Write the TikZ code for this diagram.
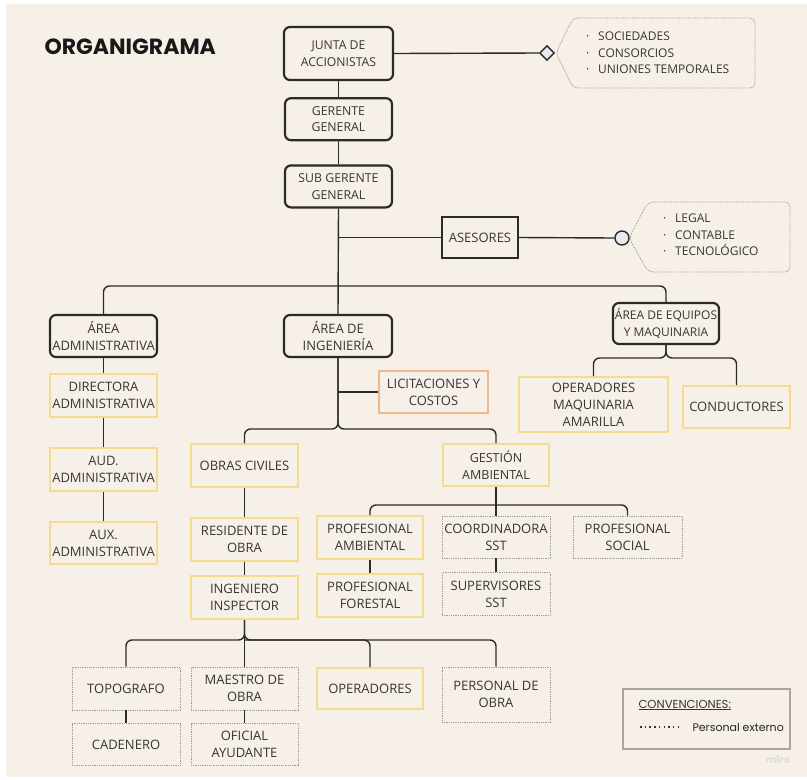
\documentclass[tikz,border=0pt]{standalone}
\usepackage{fontspec}
\setmainfont{Open Sans}
\newfontfamily\poppins{Poppins}
\usetikzlibrary{positioning,shapes.geometric,calc}

\definecolor{crema}{HTML}{F7F0E8}
\definecolor{tinta}{HTML}{363636}
\definecolor{negro}{HTML}{2B2B2B}
\definecolor{amarillo}{HTML}{F5DC8C}
\definecolor{naranjo}{HTML}{F0B88A}
\definecolor{gris}{HTML}{9C9C9C}
\definecolor{relleno}{HTML}{E9EAEF}
\definecolor{marco}{HTML}{A9A5A1}

\newcommand{\blt}{\makebox[12pt][l]{·}}

\begin{document}
\begin{tikzpicture}[x=1pt,y=-1pt,node distance=13pt,
every node/.style={text=tinta},
caja/.style={align=center,inner sep=0pt,minimum width=107pt,
    minimum height=42pt,font=\fontsize{13}{17}\selectfont},
jefe/.style={caja,draw=negro,line width=2.2pt,rounded corners=6pt},
amarilla/.style={caja,draw=amarillo,line width=2pt},
naranja/.style={caja,draw=naranjo,line width=2pt},
externa/.style={caja,draw=gris,line width=0.8pt,dash pattern=on 0.9pt off 0.9pt},
linea/.style={draw=negro,line width=1.4pt},
nube/.style={draw=gris,line width=0.8pt,dash pattern=on 0.9pt off 0.9pt,rounded corners=5pt},
lista/.style={align=left,inner sep=0pt,font=\fontsize{12}{16.5}\selectfont}
    ]
% fondo
\useasboundingbox (0,0) rectangle (807,780);
\fill[white] (0,0) rectangle (807,780);
\fill[crema] (6,4) rectangle (807,777);

\node[anchor=west,text=black!90,font=\poppins\bfseries\fontsize{22}{26}\selectfont] (titulo) at (41,47) {ORGANIGRAMA};

% direccion
\node[jefe,minimum width=109pt,minimum height=53pt,font=\fontsize{12.2}{17.5}\selectfont] (junta) at (338.5,53.5) {JUNTA DE\\ACCIONISTAS};
\node[jefe,font=\fontsize{12.3}{16.5}\selectfont](gerente) [below=16pt of junta] {GERENTE\\GENERAL};
\node[jefe,font=\fontsize{12.3}{16.5}\selectfont](sub) [below=23pt of gerente] {SUB GERENTE\\GENERAL};
\node[jefe,rounded corners=0pt,minimum width=76pt,minimum height=41pt] (asesores) at (480,237.5) {ASESORES};
\node[diamond,draw=negro,fill=relleno,line width=1.4pt,inner sep=0pt,minimum size=15pt] (dia) at (547,53) {};
\node[circle,draw=negro,fill=relleno,line width=1.4pt,inner sep=0pt,minimum size=14pt] (circ) at (622,238) {};

% notas
\draw[nube] (556,53) -- (573,18) -- (755,18) -- (755,88) -- (573,88) -- cycle;
\node[lista,anchor=west] (socios) at (586,53) {\blt SOCIEDADES\\\blt CONSORCIOS\\\blt UNIONES TEMPORALES};
\draw[nube] (629,238) -- (648,202) -- (790,202) -- (790,272) -- (648,272) -- cycle;
\node[lista,anchor=west] (apoyo) at (663,235) {\blt LEGAL\\\blt CONTABLE\\\blt TECNOLÓGICO};

% areas
\node[jefe] (adm) at (103.5,336) {ÁREA\\ADMINISTRATIVA};
\node[jefe,minimum width=108pt] (ing) at (338,336) {ÁREA DE\\INGENIERÍA};
\node[jefe,minimum width=106pt,minimum height=41pt,font=\fontsize{12}{16.5}\selectfont] (equ) at (666,323.5) {ÁREA DE EQUIPOS\\Y MAQUINARIA};

% administrativa
\node[amarilla,minimum height=43pt](dir) [below=15pt of adm] {DIRECTORA\\ADMINISTRATIVA};
\node[amarilla,minimum height=43pt](aud) [below=29pt of dir] {AUD.\\ADMINISTRATIVA};
\node[amarilla](aux) [below=29pt of aud] {AUX.\\ADMINISTRATIVA};

% ingenieria
\node[naranja,minimum width=109pt] (lic) at (433.5,392) {LICITACIONES Y\\COSTOS};
\node[amarilla,minimum height=43pt] (obras) at (244.5,465.5) {OBRAS CIVILES};
\node[amarilla,minimum width=106pt,font=\fontsize{12.5}{17}\selectfont] (gest) at (496,465) {GESTIÓN\\AMBIENTAL};
\node[amarilla,minimum height=43pt](resid) [below=29pt of obras] {RESIDENTE DE\\OBRA};
\node[amarilla,minimum height=43pt](insp) [below=of resid] {INGENIERO\\INSPECTOR};
\node[amarilla,minimum width=106pt,minimum height=43pt] (pamb) at (370,537.5) {PROFESIONAL\\AMBIENTAL};
\node[amarilla,minimum width=106pt,minimum height=43pt](pfor) [below=of pamb] {PROFESIONAL\\FORESTAL};
\node[externa,minimum width=108pt] (coord) at (496,537) {COORDINADORA\\SST};
\node[externa,minimum width=108pt,minimum height=43pt](superv) [below=14pt of coord] {SUPERVISORES\\SST};
\node[externa,minimum width=109pt] (psoc) at (627.5,537) {PROFESIONAL\\SOCIAL};

% equipos
\node[amarilla,minimum width=149pt,minimum height=55pt] (opmaq) at (593.5,404.5) {OPERADORES\\MAQUINARIA\\AMARILLA};
\node[amarilla] (cond) at (736.5,407) {CONDUCTORES};

% obra
\node[externa,minimum width=108pt,minimum height=43pt] (topo) at (126,688.5) {TOPOGRAFO};
\node[externa,minimum height=43pt] (maestro) at (244.5,688.5) {MAESTRO DE\\OBRA};
\node[amarilla,minimum width=106pt,minimum height=41pt] (oper) at (370,688.5) {OPERADORES};
\node[externa,minimum width=108pt,minimum height=55pt] (perobra) at (496,694.5) {PERSONAL DE\\OBRA};
\node[externa,minimum width=108pt](cad) [below=of topo] {CADENERO};
\node[externa](ofic) [below=of maestro] {OFICIAL\\AYUDANTE};

% convenciones
\draw[marco,line width=2.4pt] (623,689) rectangle (790,749);
\node[anchor=base west,font=\poppins\fontsize{11.6}{13}\selectfont] (conv) at (635,708) {\underline{CONVENCIONES:}};
\draw[tinta,line width=1.5pt,dash pattern=on 1.5pt off 3.2pt] (640,727) -- (678,727);
\node[anchor=west,text=black!85,font=\poppins\fontsize{11}{12}\selectfont] (ext) at (689,727) {Personal externo};
\node[text=black!14,font=\poppins\bfseries\fontsize{10}{12}\selectfont] (marca) at (778,760) {miro};

% conectores
\coordinate (bus) at (339,286);
\coordinate (ramaIng) at (339,429);
\coordinate (ramaGes) at (496,505);
\coordinate (ramaEq) at (666,358);
\coordinate (ramaIns) at (245,640);

\draw[linea] (junta) -- (gerente);
\draw[linea] (gerente) -- (sub);
\draw[linea] (sub.south) -- (ing.north);
\draw[linea] (junta.east) -- (dia.west);
\draw[linea] (asesores.west) -- (asesores.west -| sub.south);
\draw[linea] (asesores.east) -- (circ.west);
\draw[linea,rounded corners=6pt] (adm.north) |- (bus) -| (equ.north);

\draw[linea] (adm) -- (dir);
\draw[linea] (dir) -- (aud);
\draw[linea] (aud) -- (aux);

\draw[linea] (lic.west) -- (lic.west -| ing.south);
\draw[linea,rounded corners=6pt] (ing.south) |- (obras.north |- ramaIng) -- (obras.north);
\draw[linea,rounded corners=6pt] (ing.south) |- (gest.north |- ramaIng) -- (gest.north);
\draw[linea] (obras) -- (resid);
\draw[linea] (resid) -- (insp);

\draw[linea] (gest) -- (coord);
\draw[linea,rounded corners=6pt] (pamb.north) |- (ramaGes) -| (psoc.north);
\draw[linea] (pamb) -- (pfor);
\draw[linea] (coord) -- (superv);

\draw[linea,rounded corners=6pt] (equ.south) |- (opmaq.north |- ramaEq) -- (opmaq.north);
\draw[linea,rounded corners=6pt] (equ.south) |- (cond.north |- ramaEq) -- (cond.north);

\draw[linea] (insp) -- (maestro);
\draw[linea,rounded corners=6pt] (insp.south) |- (topo.north |- ramaIns) -- (topo.north);
\draw[linea,rounded corners=6pt] (insp.south) |- (perobra.north |- ramaIns) -- (perobra.north);
\draw[linea,rounded corners=6pt] (oper.north) |- (ramaIns);
\draw[linea] (topo) -- (cad);
\draw[linea] (maestro) -- (ofic);
\end{tikzpicture}
\end{document}
